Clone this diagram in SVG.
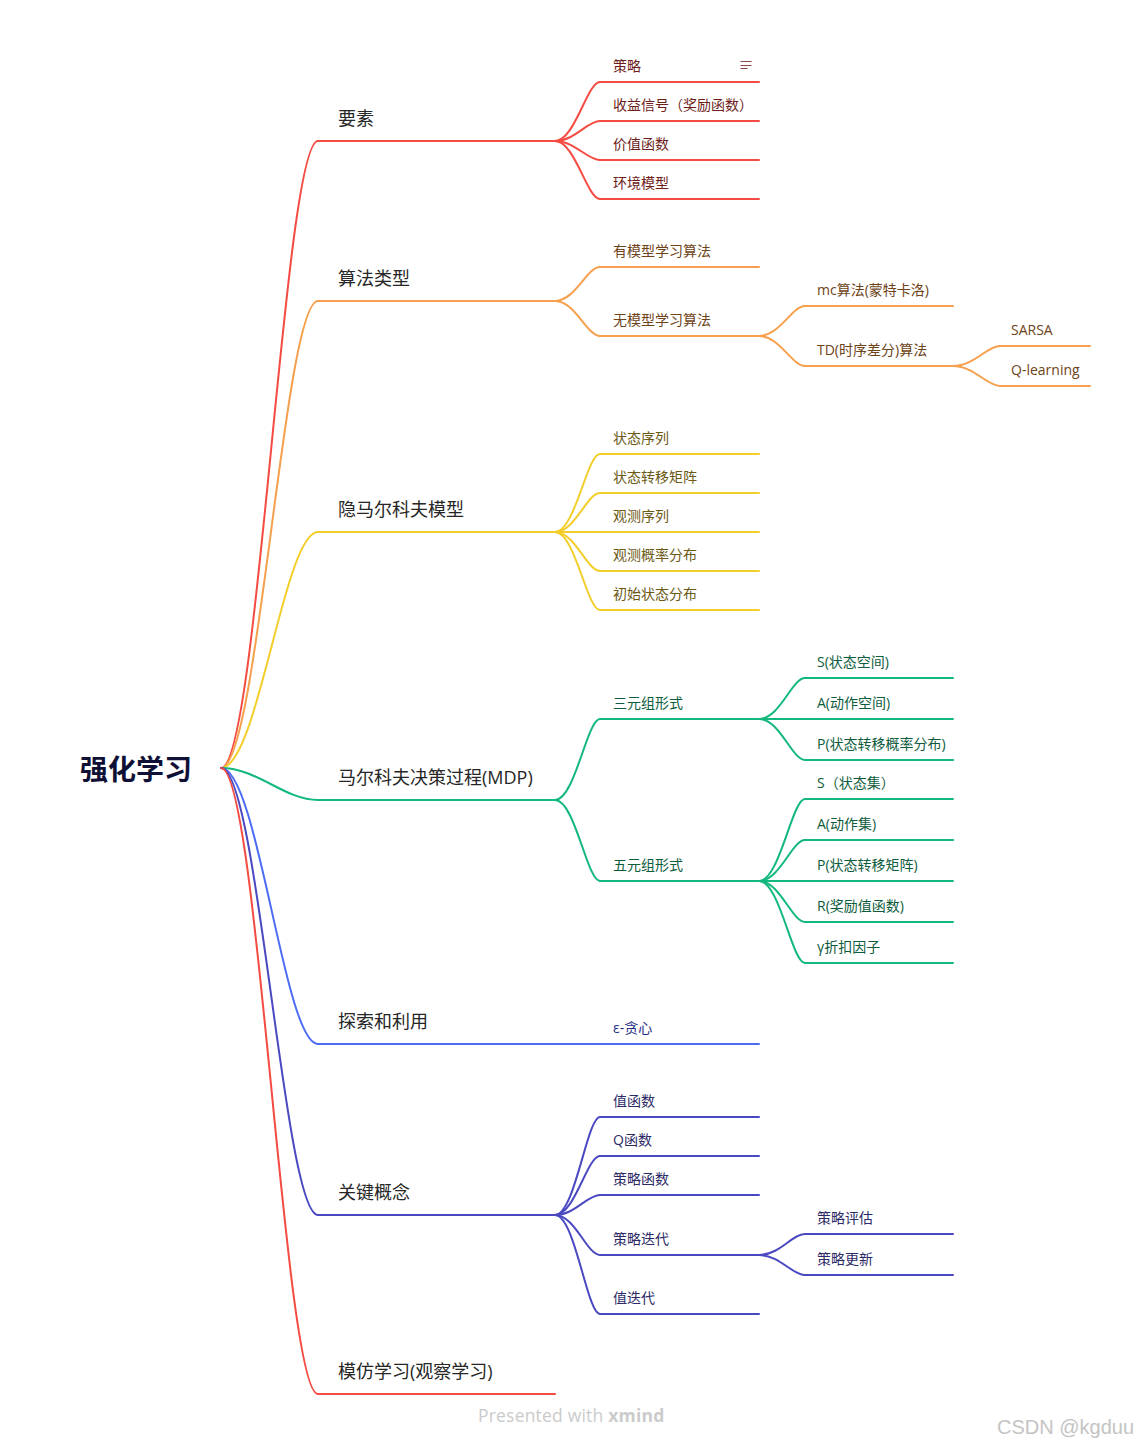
<svg xmlns="http://www.w3.org/2000/svg" width="1141" height="1447" viewBox="0 0 1141 1447">
<style>
text{font-family:"Open Sans","Noto Sans CJK SC",sans-serif;}
.root{font-size:28px;font-weight:bold;fill:#0f1035;font-family:"Noto Sans CJK SC",sans-serif;}
.l1{font-size:18px;fill:#262626;}
.l2{font-size:14px;}
.c{fill:none;stroke-width:2;stroke-linecap:round;}
.u{stroke-width:2;stroke-linecap:round;}
.red{stroke:#f44b42;} .org{stroke:#f6a04d;} .yel{stroke:#f3ce2b;} .grn{stroke:#13b87c;} .blu{stroke:#4d6cf5;} .ind{stroke:#4b49c2;}
.tred{fill:#6e1d1a;} .torg{fill:#6e4318;} .tyel{fill:#6b5914;} .tgrn{fill:#0d5c3d;} .tblu{fill:#1f2f88;} .tind{fill:#2c2a66;}
.wm{font-size:17.5px;fill:#cbcbcb;letter-spacing:0.2px;}
</style>
<rect width="1141" height="1447" fill="#ffffff"/>

<g id="connectors">
  <!-- root to level 1 -->
  <path class="c red" d="M221,768 C258,768 284,141 318,141"/>
  <path class="c org" d="M221,768 C258,768 284,301 318,301"/>
  <path class="c yel" d="M221,768 C258,768 284,532 318,532"/>
  <path class="c grn" d="M221,768 C258,768 284,800 318,800"/>
  <path class="c blu" d="M221,768 C258,768 284,1044 318,1044"/>
  <path class="c ind" d="M221,768 C258,768 284,1215 318,1215"/>
  <path class="c red" d="M221,768 C258,768 284,1394 318,1394"/>
  <!-- 要素 -->
  <path class="c red" d="M555,141 C575,141 587,82 600,82"/>
  <path class="c red" d="M555,141 C575,141 587,121 600,121"/>
  <path class="c red" d="M555,141 C575,141 587,160 600,160"/>
  <path class="c red" d="M555,141 C575,141 587,199 600,199"/>
  <!-- 算法类型 -->
  <path class="c org" d="M555,301 C575,301 587,267 600,267"/>
  <path class="c org" d="M555,301 C575,301 587,336 600,336"/>
  <path class="c org" d="M759,336 C779.7,336 792,306 805,306"/>
  <path class="c org" d="M759,336 C779.7,336 792,366 805,366"/>
  <path class="c org" d="M953,366 C974,366 987,346 1000,346"/>
  <path class="c org" d="M953,366 C974,366 987,386 1000,386"/>
  <!-- 隐马尔科夫模型 -->
  <path class="c yel" d="M555,532 C575,532 587,454 600,454"/>
  <path class="c yel" d="M555,532 C575,532 587,493 600,493"/>
  <path class="c yel" d="M555,532 C575,532 587,532 600,532"/>
  <path class="c yel" d="M555,532 C575,532 587,571 600,571"/>
  <path class="c yel" d="M555,532 C575,532 587,610 600,610"/>
  <!-- MDP -->
  <path class="c grn" d="M555,800 C575,800 587,719 600,719"/>
  <path class="c grn" d="M555,800 C575,800 587,881 600,881"/>
  <path class="c grn" d="M759,719 C779.7,719 792,678 805,678"/>
  <path class="c grn" d="M759,719 C779.7,719 792,719 805,719"/>
  <path class="c grn" d="M759,719 C779.7,719 792,760 805,760"/>
  <path class="c grn" d="M759,881 C779.7,881 792,799 805,799"/>
  <path class="c grn" d="M759,881 C779.7,881 792,840 805,840"/>
  <path class="c grn" d="M759,881 C779.7,881 792,881 805,881"/>
  <path class="c grn" d="M759,881 C779.7,881 792,922 805,922"/>
  <path class="c grn" d="M759,881 C779.7,881 792,963 805,963"/>
  <!-- 探索和利用 -->
  <path class="c blu" d="M555,1044 L600,1044"/>
  <!-- 关键概念 -->
  <path class="c ind" d="M555,1215 C575,1215 587,1117 600,1117"/>
  <path class="c ind" d="M555,1215 C575,1215 587,1156 600,1156"/>
  <path class="c ind" d="M555,1215 C575,1215 587,1195 600,1195"/>
  <path class="c ind" d="M555,1215 C575,1215 587,1255 600,1255"/>
  <path class="c ind" d="M555,1215 C575,1215 587,1314 600,1314"/>
  <path class="c ind" d="M759,1255 C779.7,1255 792,1234 805,1234"/>
  <path class="c ind" d="M759,1255 C779.7,1255 792,1275 805,1275"/>
</g>

<g id="root"><text class="root" x="80" y="780">强化学习</text></g>

<g id="n-yaosu"><line class="u red" x1="318" y1="141" x2="555" y2="141"/><text class="l1" x="338" y="125">要素</text></g>
<g id="n-celue"><line class="u red" x1="600" y1="82" x2="759" y2="82"/><text class="l2 tred" x="613" y="71">策略</text>
  <g stroke="#8a4a48" stroke-width="1"><line x1="740.5" y1="61.5" x2="751.5" y2="61.5"/><line x1="740.5" y1="65.5" x2="751.5" y2="65.5"/><line x1="740.5" y1="68.5" x2="747.5" y2="68.5"/></g></g>
<g id="n-shouyi"><line class="u red" x1="600" y1="121" x2="759" y2="121"/><text class="l2 tred" x="613" y="110">收益信号（奖励函数）</text></g>
<g id="n-jiazhi"><line class="u red" x1="600" y1="160" x2="759" y2="160"/><text class="l2 tred" x="613" y="149">价值函数</text></g>
<g id="n-huanjing"><line class="u red" x1="600" y1="199" x2="759" y2="199"/><text class="l2 tred" x="613" y="188">环境模型</text></g>

<g id="n-suanfa"><line class="u org" x1="318" y1="301" x2="555" y2="301"/><text class="l1" x="338" y="285">算法类型</text></g>
<g id="n-youmoxing"><line class="u org" x1="600" y1="267" x2="759" y2="267"/><text class="l2 torg" x="613" y="256">有模型学习算法</text></g>
<g id="n-wumoxing"><line class="u org" x1="600" y1="336" x2="759" y2="336"/><text class="l2 torg" x="613" y="325">无模型学习算法</text></g>
<g id="n-mc"><line class="u org" x1="805" y1="306" x2="953" y2="306"/><text class="l2 torg" x="817" y="295">mc算法(蒙特卡洛)</text></g>
<g id="n-td"><line class="u org" x1="805" y1="366" x2="953" y2="366"/><text class="l2 torg" x="817" y="355">TD(时序差分)算法</text></g>
<g id="n-sarsa"><line class="u org" x1="1000" y1="346" x2="1090" y2="346"/><text class="l2 torg" x="1011" y="335">SARSA</text></g>
<g id="n-qlearning"><line class="u org" x1="1000" y1="386" x2="1090" y2="386"/><text class="l2 torg" x="1011" y="375">Q-learning</text></g>

<g id="n-hmm"><line class="u yel" x1="318" y1="532" x2="555" y2="532"/><text class="l1" x="338" y="516">隐马尔科夫模型</text></g>
<g id="n-hmm1"><line class="u yel" x1="600" y1="454" x2="759" y2="454"/><text class="l2 tyel" x="613" y="443">状态序列</text></g>
<g id="n-hmm2"><line class="u yel" x1="600" y1="493" x2="759" y2="493"/><text class="l2 tyel" x="613" y="482">状态转移矩阵</text></g>
<g id="n-hmm3"><line class="u yel" x1="600" y1="532" x2="759" y2="532"/><text class="l2 tyel" x="613" y="521">观测序列</text></g>
<g id="n-hmm4"><line class="u yel" x1="600" y1="571" x2="759" y2="571"/><text class="l2 tyel" x="613" y="560">观测概率分布</text></g>
<g id="n-hmm5"><line class="u yel" x1="600" y1="610" x2="759" y2="610"/><text class="l2 tyel" x="613" y="599">初始状态分布</text></g>

<g id="n-mdp"><line class="u grn" x1="318" y1="800" x2="555" y2="800"/><text class="l1" x="338" y="784">马尔科夫决策过程(MDP)</text></g>
<g id="n-three"><line class="u grn" x1="600" y1="719" x2="759" y2="719"/><text class="l2 tgrn" x="613" y="708">三元组形式</text></g>
<g id="n-three-s"><line class="u grn" x1="805" y1="678" x2="953" y2="678"/><text class="l2 tgrn" x="817" y="667">S(状态空间)</text></g>
<g id="n-three-a"><line class="u grn" x1="805" y1="719" x2="953" y2="719"/><text class="l2 tgrn" x="817" y="708">A(动作空间)</text></g>
<g id="n-three-p"><line class="u grn" x1="805" y1="760" x2="953" y2="760"/><text class="l2 tgrn" x="817" y="749">P(状态转移概率分布)</text></g>
<g id="n-five"><line class="u grn" x1="600" y1="881" x2="759" y2="881"/><text class="l2 tgrn" x="613" y="870">五元组形式</text></g>
<g id="n-five-s"><line class="u grn" x1="805" y1="799" x2="953" y2="799"/><text class="l2 tgrn" x="817" y="788">S（状态集）</text></g>
<g id="n-five-a"><line class="u grn" x1="805" y1="840" x2="953" y2="840"/><text class="l2 tgrn" x="817" y="829">A(动作集)</text></g>
<g id="n-five-p"><line class="u grn" x1="805" y1="881" x2="953" y2="881"/><text class="l2 tgrn" x="817" y="870">P(状态转移矩阵)</text></g>
<g id="n-five-r"><line class="u grn" x1="805" y1="922" x2="953" y2="922"/><text class="l2 tgrn" x="817" y="911">R(奖励值函数)</text></g>
<g id="n-five-g"><line class="u grn" x1="805" y1="963" x2="953" y2="963"/><text class="l2 tgrn" x="817" y="952">γ折扣因子</text></g>

<g id="n-explore"><line class="u blu" x1="318" y1="1044" x2="555" y2="1044"/><text class="l1" x="338" y="1028">探索和利用</text></g>
<g id="n-egreedy"><line class="u blu" x1="600" y1="1044" x2="759" y2="1044"/><text class="l2 tblu" x="613" y="1033">ε-贪心</text></g>

<g id="n-key"><line class="u ind" x1="318" y1="1215" x2="555" y2="1215"/><text class="l1" x="338" y="1199">关键概念</text></g>
<g id="n-key1"><line class="u ind" x1="600" y1="1117" x2="759" y2="1117"/><text class="l2 tind" x="613" y="1106">值函数</text></g>
<g id="n-key2"><line class="u ind" x1="600" y1="1156" x2="759" y2="1156"/><text class="l2 tind" x="613" y="1145">Q函数</text></g>
<g id="n-key3"><line class="u ind" x1="600" y1="1195" x2="759" y2="1195"/><text class="l2 tind" x="613" y="1184">策略函数</text></g>
<g id="n-key4"><line class="u ind" x1="600" y1="1255" x2="759" y2="1255"/><text class="l2 tind" x="613" y="1244">策略迭代</text></g>
<g id="n-key4a"><line class="u ind" x1="805" y1="1234" x2="953" y2="1234"/><text class="l2 tind" x="817" y="1223">策略评估</text></g>
<g id="n-key4b"><line class="u ind" x1="805" y1="1275" x2="953" y2="1275"/><text class="l2 tind" x="817" y="1264">策略更新</text></g>
<g id="n-key5"><line class="u ind" x1="600" y1="1314" x2="759" y2="1314"/><text class="l2 tind" x="613" y="1303">值迭代</text></g>

<g id="n-imitate"><line class="u red" x1="318" y1="1394" x2="555" y2="1394"/><text class="l1" x="338" y="1378">模仿学习(观察学习)</text></g>

<g id="watermarks">
  <text class="wm" x="478" y="1422">Presented with <tspan font-weight="bold">xmind</tspan></text>
  <text x="997" y="1434" font-size="20" fill="#c4c4c4" style="font-family:'Liberation Sans',sans-serif">CSDN @kgduu</text>
</g>
</svg>
